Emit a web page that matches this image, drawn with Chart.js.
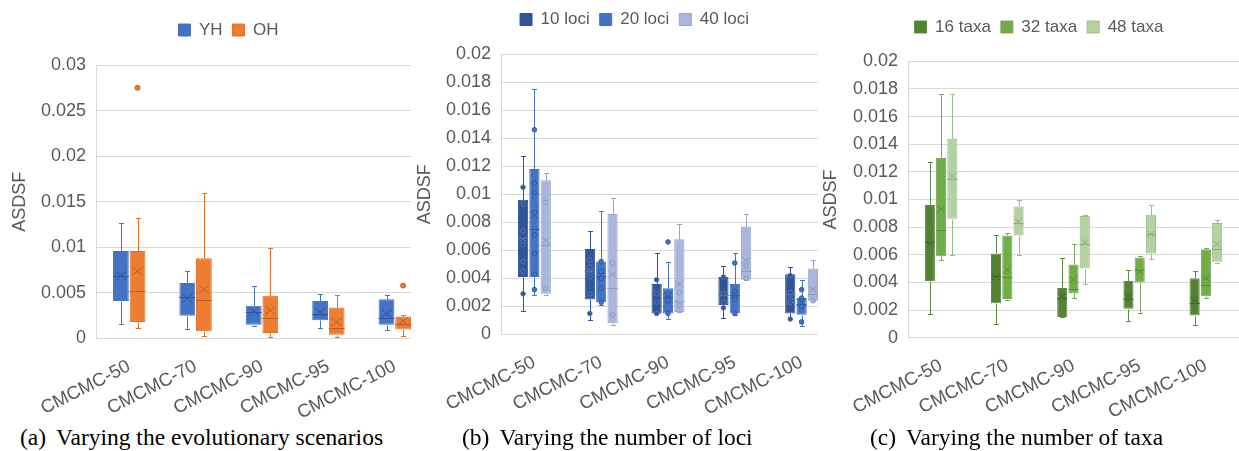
<!DOCTYPE html>
<html>
<head>
<meta charset="utf-8">
<script src="https://cdn.jsdelivr.net/npm/chart.js@4.4.1/dist/chart.umd.min.js"></script>
<style>
html, body { margin: 0; padding: 0; background: #fff; }
body { width: 1239px; height: 451px; position: relative; overflow: hidden; }
.panel { position: absolute; top: 0; height: 420px; overflow: hidden; }
.panel canvas { position: absolute; left: 0; top: 0; }
.cap { position: absolute; top: 424px; font-family: 'Liberation Serif', 'Times New Roman', serif; font-size: 23.5px; color: #000; white-space: nowrap; line-height: 26px; }
.cap span { margin-right: 10px; }
</style>
</head>
<body>
<div class="panel" style="left:0;width:411px"><canvas id="chartA" width="430" height="420"></canvas></div>
<div class="panel" style="left:410px;width:408px"><canvas id="chartB" width="427" height="420"></canvas></div>
<div class="panel" style="left:820px;width:419px"><canvas id="chartC" width="419" height="420"></canvas></div>
<div class="cap" style="left:20px"><span>(a)</span>Varying the evolutionary scenarios</div>
<div class="cap" style="left:462px"><span>(b)</span>Varying the number of loci</div>
<div class="cap" style="left:870px"><span>(c)</span>Varying the number of taxa</div>
<script>
const categories = ['CMCMC-50', 'CMCMC-70', 'CMCMC-90', 'CMCMC-95', 'CMCMC-100'];

// boxes are [min, q1, median, q3, max] per category
// (a) evolutionary scenarios
const yhBox = [[0.0016, 0.0041, 0.0069, 0.0096, 0.0127], [0.0010, 0.0025, 0.0045, 0.0061, 0.0074], [0.0014, 0.0015, 0.0029, 0.0036, 0.0058], [0.0011, 0.0020, 0.0027, 0.0041, 0.0049], [0.0009, 0.0015, 0.0023, 0.0043, 0.0048]];
const yhMean = [0.0069, 0.0044, 0.0030, 0.0029, 0.0027];
const ohBox = [[0.0011, 0.0018, 0.0052, 0.0096, 0.0132], [0.0003, 0.0008, 0.0042, 0.0088, 0.0160], [0.0002, 0.0006, 0.0023, 0.0047, 0.0099], [0.0002, 0.0004, 0.0011, 0.0034, 0.0048], [0.0003, 0.0010, 0.0016, 0.0024, 0.0026]];
const ohMean = [0.0074, 0.0054, 0.0031, 0.0018, 0.0019];
const ohPts = [[0.0275], [], [], [], [0.0058]];

// (b) number of loci
const loci10Box = [[0.0017, 0.0041, 0.0069, 0.0096, 0.0127], [0.0010, 0.0025, 0.0045, 0.0061, 0.0074], [0.0015, 0.0015, 0.0029, 0.0036, 0.0058], [0.0012, 0.0021, 0.0028, 0.0041, 0.0049], [0.0011, 0.0015, 0.0023, 0.0043, 0.0048]];
const loci10Mean = [0.0068, 0.0045, 0.0030, 0.0029, 0.0027];
const loci10Pts = [[0.0105, 0.0093, 0.0074, 0.0064, 0.0052, 0.0045, 0.0029], [0.0053, 0.0048, 0.0041, 0.0029, 0.0015], [0.0039, 0.0029, 0.0023, 0.0015], [0.0041, 0.0029, 0.0023, 0.0019], [0.0042, 0.0030, 0.0023, 0.0011]];
const loci20Box = [[0.0028, 0.0041, 0.0075, 0.0118, 0.0175], [0.0021, 0.0023, 0.0042, 0.0052, 0.0088], [0.0011, 0.0015, 0.0027, 0.0033, 0.0052], [0.0014, 0.0015, 0.0028, 0.0036, 0.0058], [0.0006, 0.0014, 0.0022, 0.0026, 0.0039]];
const loci20Mean = [0.0085, 0.0042, 0.0028, 0.0028, 0.0023];
const loci20Pts = [[0.0146, 0.0108, 0.0101, 0.0087, 0.0071, 0.0058, 0.0043, 0.0032], [0.0052, 0.0045, 0.0040, 0.0033, 0.0023], [0.0066, 0.0029, 0.0024, 0.0015], [0.0051, 0.0031, 0.0025, 0.0015], [0.0032, 0.0026, 0.0020, 0.0009]];
const loci40Box = [[0.0028, 0.0029, 0.0064, 0.0110, 0.0115], [0.0007, 0.0008, 0.0033, 0.0086, 0.0097], [0.0016, 0.0016, 0.0024, 0.0068, 0.0079], [0.0039, 0.0039, 0.0045, 0.0077, 0.0086], [0.0024, 0.0024, 0.0029, 0.0047, 0.0053]];
const loci40Mean = [0.0067, 0.0043, 0.0036, 0.0053, 0.0032];
const loci40Pts = [[0.0094, 0.0033], [0.0051, 0.0014], [0.0030, 0.0021], [0.0049, 0.0040], [0.0024]];

// (c) number of taxa
const taxa16Box = [[0.0017, 0.0041, 0.0069, 0.0096, 0.0127], [0.0010, 0.0025, 0.0045, 0.0061, 0.0074], [0.0015, 0.0015, 0.0029, 0.0036, 0.0058], [0.0012, 0.0021, 0.0028, 0.0041, 0.0049], [0.0009, 0.0016, 0.0025, 0.0043, 0.0048]];
const taxa16Mean = [0.0068, 0.0044, 0.0030, 0.0030, 0.0027];
const taxa32Box = [[0.0056, 0.0059, 0.0078, 0.0130, 0.0176], [0.0027, 0.0028, 0.0044, 0.0074, 0.0076], [0.0029, 0.0032, 0.0035, 0.0053, 0.0068], [0.0018, 0.0040, 0.0049, 0.0058, 0.0059], [0.0029, 0.0030, 0.0038, 0.0064, 0.0065]];
const taxa32Mean = [0.0093, 0.0049, 0.0042, 0.0048, 0.0043];
const taxa48Box = [[0.0060, 0.0086, 0.0115, 0.0144, 0.0176], [0.0060, 0.0074, 0.0083, 0.0095, 0.0100], [0.0039, 0.0050, 0.0068, 0.0088, 0.0089], [0.0057, 0.0061, 0.0075, 0.0089, 0.0096], [0.0054, 0.0055, 0.0064, 0.0083, 0.0085]];
const taxa48Mean = [0.0117, 0.0084, 0.0069, 0.0075, 0.0068];

Chart.defaults.font.family = "'Liberation Sans', Arial, Helvetica, sans-serif";
Chart.defaults.color = '#595959';

// whiskers, median, mean cross and points on top of the floating bars
const boxPlugin = {
  id: 'boxes',
  afterDatasetsDraw(chart) {
    const ctx = chart.ctx;
    const ys = chart.scales.y;
    const py = v => Math.round(ys.getPixelForValue(v)) + 0.5;
    chart.data.datasets.forEach((ds, di) => {
      const meta = chart.getDatasetMeta(di);
      meta.data.forEach((bar, i) => {
        const [lo, q1, med, q3, hi] = ds.stats[i];
        const x = Math.round(bar.x) + 0.5;
        const w = bar.width;
        ctx.save();
        ctx.lineWidth = 1;
        ctx.strokeStyle = ds.lineColor;
        ctx.beginPath();
        ctx.moveTo(x, py(q3)); ctx.lineTo(x, py(hi));
        ctx.moveTo(x - 2.5, py(hi)); ctx.lineTo(x + 2.5, py(hi));
        ctx.moveTo(x, py(q1)); ctx.lineTo(x, py(lo));
        ctx.moveTo(x - 2.5, py(lo)); ctx.lineTo(x + 2.5, py(lo));
        ctx.stroke();
        ctx.strokeStyle = ds.markColor;
        ctx.beginPath();
        ctx.moveTo(bar.x - w / 2, py(med)); ctx.lineTo(bar.x + w / 2, py(med));
        const my = ys.getPixelForValue(ds.means[i]);
        const s = Math.min(w / 2 - 1, 5);
        ctx.moveTo(bar.x - s, my - s * 0.8); ctx.lineTo(bar.x + s, my + s * 0.8);
        ctx.moveTo(bar.x - s, my + s * 0.8); ctx.lineTo(bar.x + s, my - s * 0.8);
        ctx.stroke();
        (ds.points ? ds.points[i] : []).forEach(v => {
          ctx.beginPath();
          ctx.arc(bar.x, ys.getPixelForValue(v), ds.dotRadius, 0, Math.PI * 2);
          ctx.fillStyle = ds.backgroundColor;
          ctx.fill();
          ctx.strokeStyle = ds.markColor;
          ctx.stroke();
        });
        ctx.restore();
      });
    });
  }
};

// put the legend where the original one sits
const legendPos = {
  id: 'legendPos',
  beforeDraw(chart, args, opts) {
    const lg = chart.legend;
    const p = lg.options.labels.padding;
    const lw = lg.lineWidths[0] - p;
    lg.left = opts.cx - lw / 2 - p;
    lg.top = opts.cy - p - 17 / 2;
  }
};

function makeChart(id, cfg) {
  return new Chart(document.getElementById(id), {
    type: 'bar',
    data: {
      labels: categories,
      datasets: cfg.series.map(s => ({
        label: s.name,
        data: s.box.map(b => [b[1], b[3]]),
        stats: s.box,
        means: s.mean,
        points: s.pts,
        backgroundColor: s.fill,
        borderColor: s.line,
        borderWidth: 1,
        borderSkipped: false,
        lineColor: s.line,
        markColor: s.mark,
        dotRadius: cfg.dot,
        categoryPercentage: cfg.catPct,
        barPercentage: cfg.barPct
      }))
    },
    options: {
      responsive: false,
      animation: false,
      devicePixelRatio: 1,
      layout: { padding: { right: cfg.padRight } },
      plugins: {
        legend: {
          align: 'start',
          labels: { boxWidth: 12, boxHeight: 12, padding: 10, color: '#595959', font: { size: 17 } }
        },
        tooltip: { enabled: false },
        legendPos: { cx: cfg.legendX, cy: cfg.legendY }
      },
      scales: {
        x: {
          grid: { display: false, drawTicks: false },
          border: { display: true, color: '#D9D9D9' },
          ticks: { minRotation: 27, maxRotation: 27, autoSkip: false, padding: 17, font: { size: 18.5 } },
          afterFit: s => { s.height = cfg.h - cfg.zeroY; s.paddingLeft = 0; s.paddingRight = 0; }
        },
        y: {
          min: 0,
          max: cfg.max,
          ticks: { stepSize: cfg.step, padding: 10, font: { size: 18 }, callback: v => String(+v.toFixed(4)) },
          grid: { color: '#D9D9D9', drawTicks: false },
          border: { display: true, color: '#D9D9D9' },
          title: { display: true, text: 'ASDSF', font: { size: 18 }, padding: { top: cfg.titlePad, bottom: 0 } },
          afterFit: s => { s.width = cfg.axisW; s.paddingTop = cfg.top; }
        }
      }
    },
    plugins: [boxPlugin, legendPos]
  });
}

makeChart('chartA', {
  h: 420, zeroY: 338.5, top: 65, axisW: 96, padRight: 2, max: 0.03, step: 0.005,
  legendX: 228.5, legendY: 30, titlePad: 9.2, catPct: 0.5, barPct: 0.95, dot: 2.5,
  series: [
    { name: 'YH', box: yhBox, mean: yhMean, pts: null, fill: '#4472C4', line: '#4472C4', mark: '#2F5597' },
    { name: 'OH', box: ohBox, mean: ohMean, pts: ohPts, fill: '#ED7D31', line: '#E0712A', mark: '#BF5F1E' }
  ]
});

makeChart('chartB', {
  h: 420, zeroY: 334.5, top: 54, axisW: 91, padRight: 2, max: 0.02, step: 0.002,
  legendX: 224.5, legendY: 19.5, titlePad: 4.2, catPct: 0.51, barPct: 0.9, dot: 2.3,
  series: [
    { name: '10 loci', box: loci10Box, mean: loci10Mean, pts: loci10Pts, fill: '#2F5597', line: '#2F5597', mark: '#5874AE' },
    { name: '20 loci', box: loci20Box, mean: loci20Mean, pts: loci20Pts, fill: '#4472C4', line: '#4472C4', mark: '#2F5AA8' },
    { name: '40 loci', box: loci40Box, mean: loci40Mean, pts: loci40Pts, fill: '#A9B6DB', line: '#97A5D0', mark: '#8C99C4' }
  ]
});

makeChart('chartC', {
  h: 420, zeroY: 337.7, top: 61.3, axisW: 88, padRight: 0, max: 0.02, step: 0.002,
  legendX: 219, legendY: 27, titlePad: 0.2, catPct: 0.51, barPct: 0.9, dot: 2.3,
  series: [
    { name: '16 taxa', box: taxa16Box, mean: taxa16Mean, pts: null, fill: '#548235', line: '#5F8A42', mark: '#3F6A25' },
    { name: '32 taxa', box: taxa32Box, mean: taxa32Mean, pts: null, fill: '#70AD47', line: '#7DA468', mark: '#5A8F38' },
    { name: '48 taxa', box: taxa48Box, mean: taxa48Mean, pts: null, fill: '#B4D1A2', line: '#9CBF88', mark: '#8FB27C' }
  ]
});
</script>
</body>
</html>
